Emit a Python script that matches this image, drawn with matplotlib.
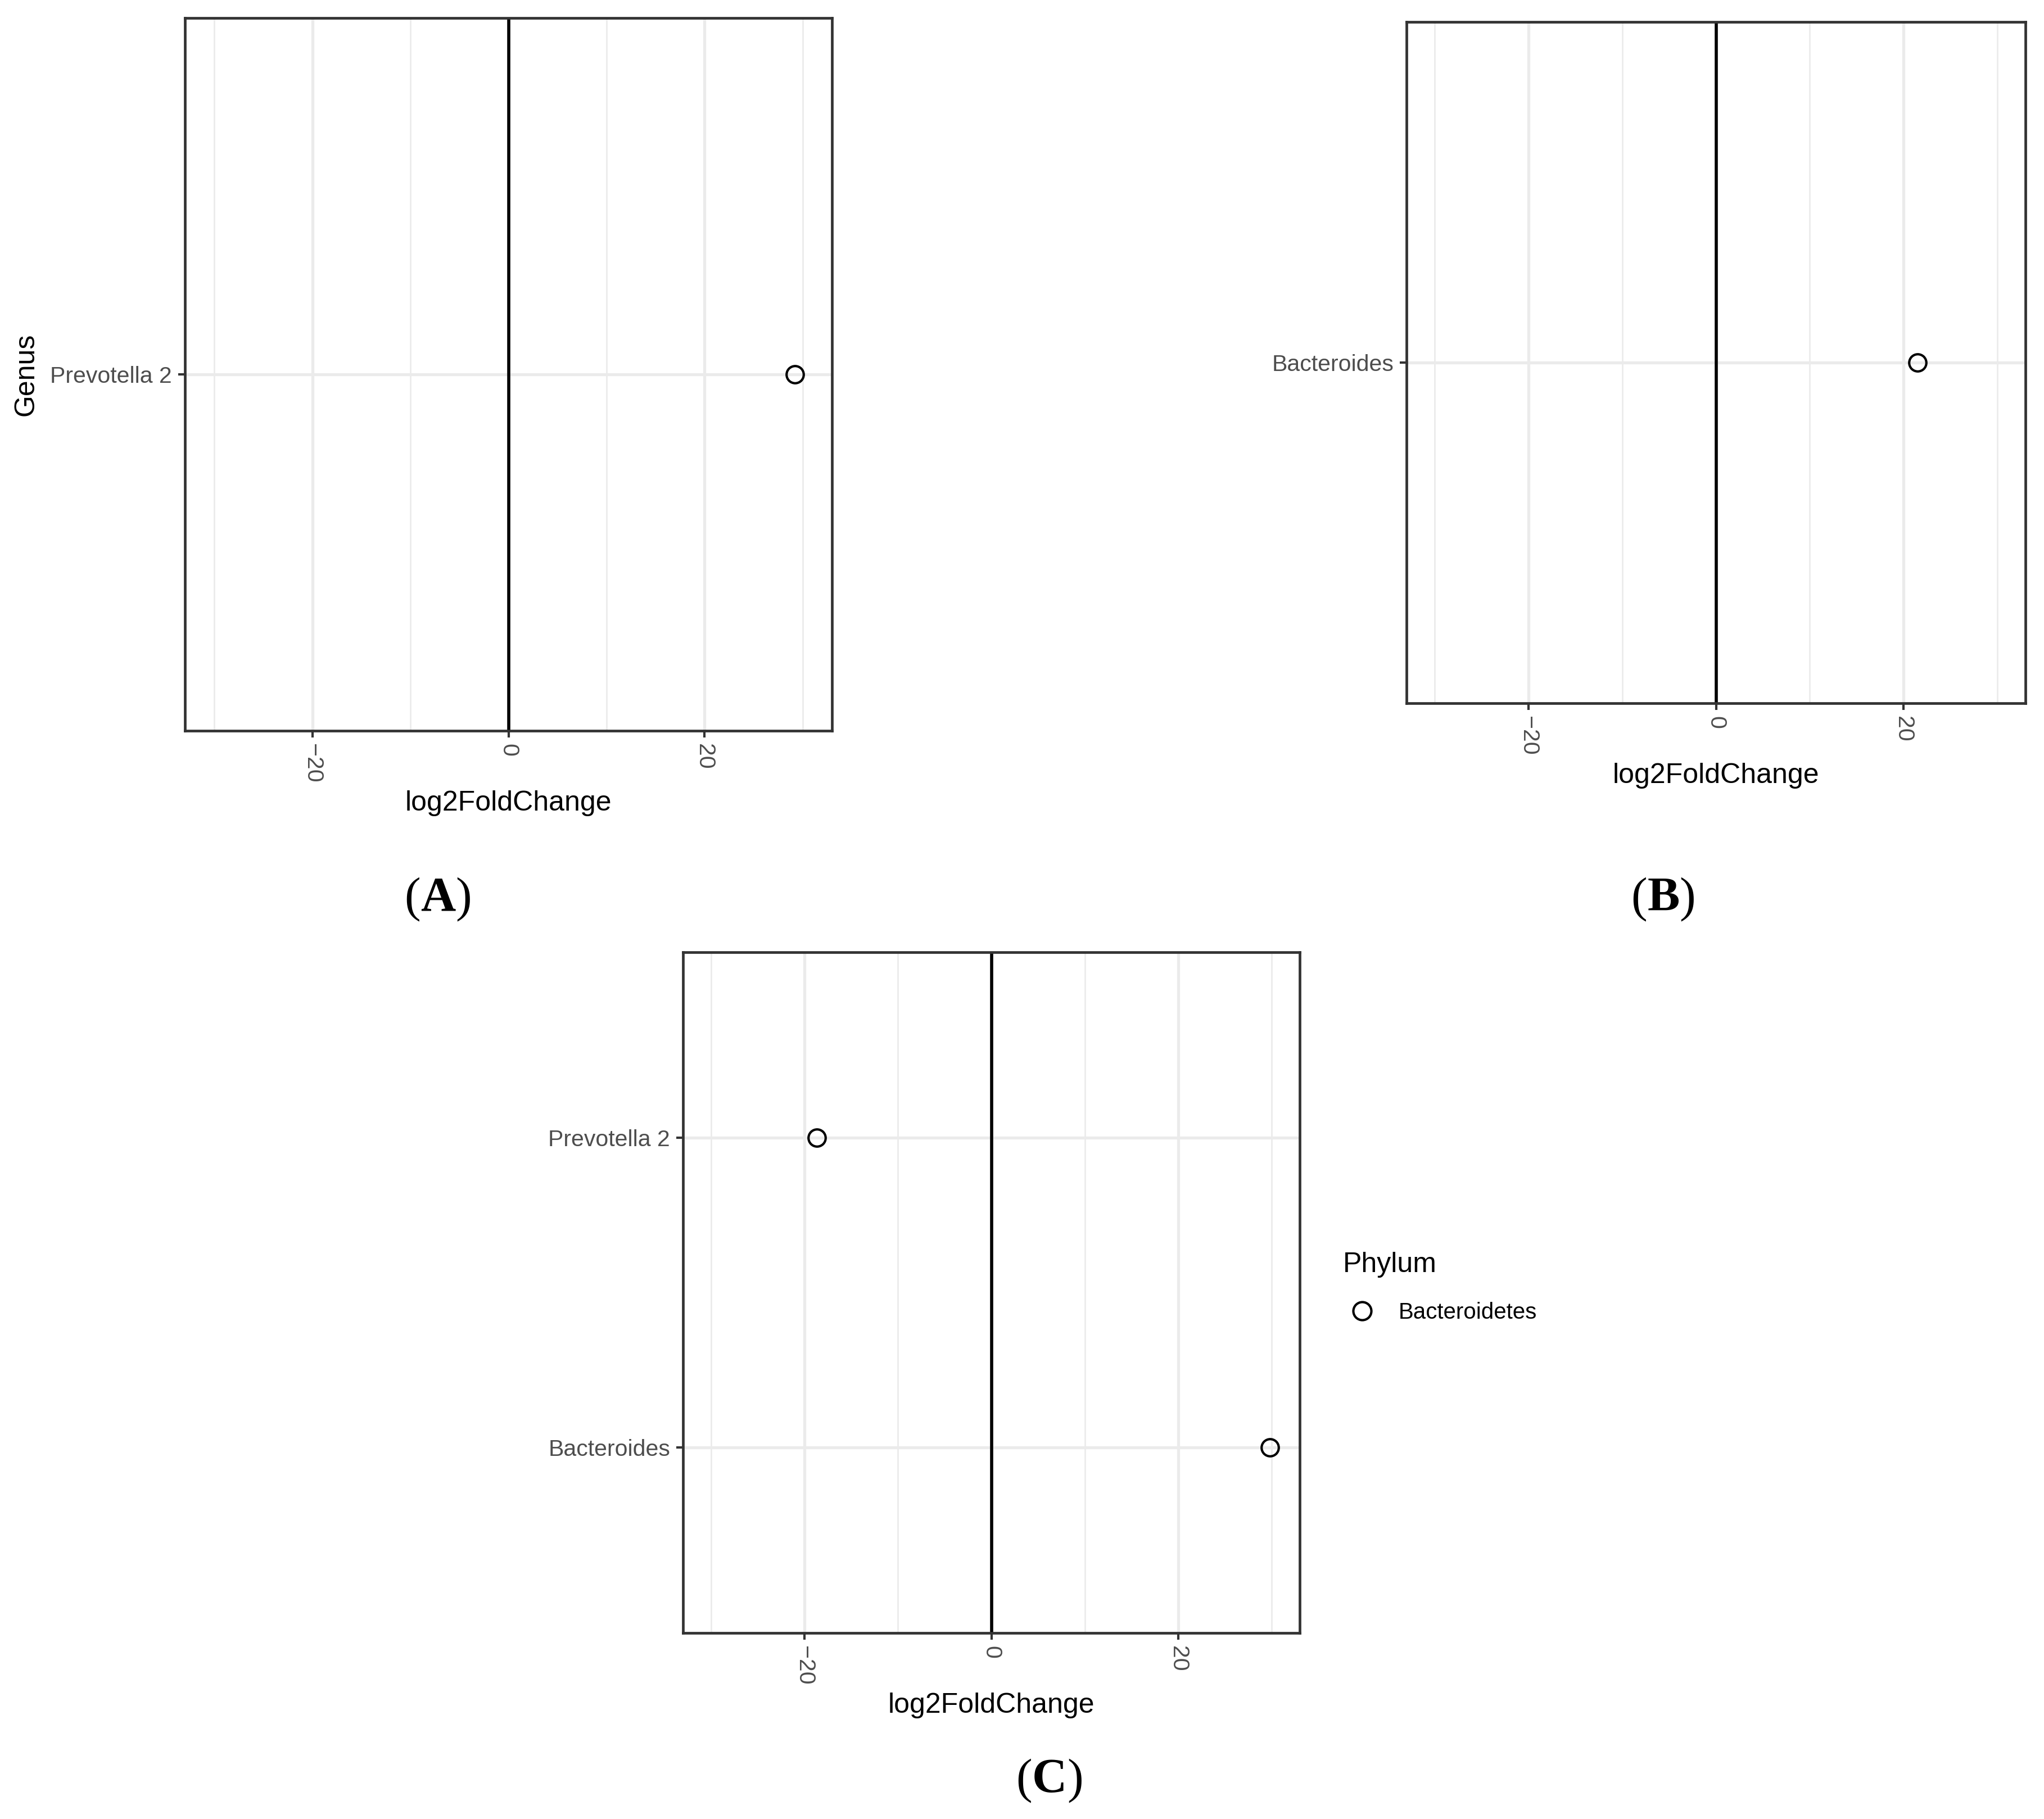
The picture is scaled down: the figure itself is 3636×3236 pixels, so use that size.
import matplotlib.pyplot as plt

plt.rcParams['font.family'] = ['Liberation Sans', 'DejaVu Sans']

# values
genus_a = ['Prevotella 2']
lfc_a = [29.2]

genus_b = ['Bacteroides']
lfc_b = [21.5]

genus_c = ['Bacteroides', 'Prevotella 2']
lfc_c = [29.8, -18.7]

xticks = [-20, 0, 20]
xminor = [-30, -10, 10, 30]
phylum = 'Bacteroidetes'

W, H = 3636, 3236
fig = plt.figure(figsize=(W / 100, H / 100), dpi=100)


def box(x0, y0, x1, y1):
    return [x0 / W, 1 - y1 / H, (x1 - x0) / W, (y1 - y0) / H]


def panel(ax, names, vals):
    ypos = list(range(1, len(names) + 1))
    ax.set_xlim(-33, 33)
    ax.set_ylim(0.4, len(names) + 0.6)
    ax.set_xticks(xticks)
    ax.set_xticks(xminor, minor=True)
    ax.set_yticks(ypos)
    ax.set_yticklabels(names)
    ax.grid(True, which='major', color='#EBEBEB', lw=3.8, zorder=0)
    ax.grid(True, which='minor', axis='x', color='#EBEBEB', lw=2.0, zorder=0)
    ax.set_axisbelow(True)
    ax.axvline(0, color='black', lw=4, zorder=1)
    ax.plot(vals, ypos, 'o', ms=22, mfc='none', mec='black', mew=3, zorder=3,
            label=phylum)
    for s in ax.spines.values():
        s.set_color('#333333')
        s.set_linewidth(3.4)
    ax.tick_params(axis='both', which='major', length=8.5, width=3,
                   color='#333333', labelcolor='#4D4D4D', labelsize=29.5, pad=8)
    ax.tick_params(axis='x', which='minor', length=0)
    for lab in ax.get_xticklabels():
        lab.set_rotation(-90)
    ax.set_xlabel('log2FoldChange', fontsize=36, labelpad=10)


ax_a = fig.add_axes(box(329, 32, 1480, 1300))
panel(ax_a, genus_a, lfc_a)
ax_a.set_ylabel('Genus', fontsize=36, labelpad=14)

ax_b = fig.add_axes(box(2502, 39, 3603, 1251))
panel(ax_b, genus_b, lfc_b)

ax_c = fig.add_axes(box(1215, 1694, 2312, 2905))
panel(ax_c, genus_c, lfc_c)

# legend: title as its own text so the gap to the key matches
fig.text(2389 / W, 1 - 2250 / H, 'Phylum', ha='left', va='center', fontsize=36)
ax_c.legend(loc='center left', bbox_to_anchor=(2391 / W, 1 - 2335 / H),
            bbox_transform=fig.transFigure, frameon=False, fontsize=29,
            handletextpad=0.8, handlelength=1.6, borderpad=0,
            borderaxespad=0, markerscale=1.05)

# panel letters: bold letter, regular parentheses
serif = 'Liberation Serif'
for letter, x, y in [('A', 779, 1620), ('B', 2959, 1620), ('C', 1867, 3188)]:
    yf = 1 - y / H
    t = fig.text(x / W, yf, letter, ha='center', va='baseline',
                 family=serif, weight='bold', fontsize=62)
    ax_c.annotate('(', xy=(0, yf), xycoords=(t, 'figure fraction'),
                  ha='right', va='baseline', family=serif, fontsize=62,
                  annotation_clip=False)
    ax_c.annotate(')', xy=(1, yf), xycoords=(t, 'figure fraction'),
                  ha='left', va='baseline', family=serif, fontsize=62,
                  annotation_clip=False)

fig.savefig('out.png', dpi=100)
